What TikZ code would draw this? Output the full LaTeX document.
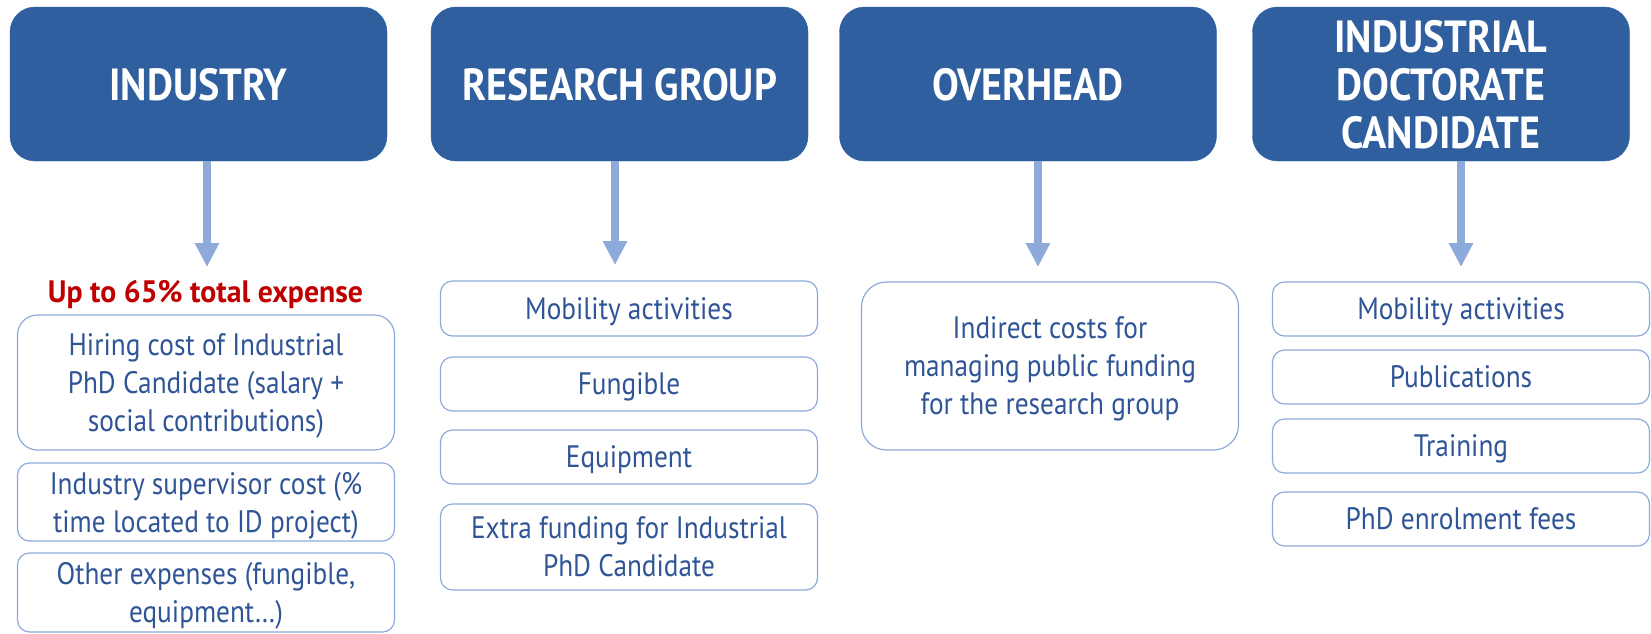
\documentclass[tikz,border=0pt]{standalone}
\usepackage{fontspec}
\setmainfont{PT Sans}[FakeStretch=0.88]
\newfontfamily\headfont{PT Sans}[FakeStretch=0.89]
\newfontfamily\redfont{PT Sans}[FakeStretch=0.96]
\usetikzlibrary{arrows.meta}
\definecolor{hblue}{HTML}{2F5F9E}
\definecolor{tblue}{HTML}{2F5597}
\definecolor{lblue}{HTML}{8EAADB}
\definecolor{ablue}{HTML}{8EAADB}
\definecolor{rred}{HTML}{C00000}
\tikzset{
  head/.style={rounded corners=25pt, fill=hblue, draw=hblue, text=white,
    minimum width=377pt, minimum height=154pt, inner sep=0pt, align=center,
    text depth=0pt,
    font=\headfont\bfseries\fontsize{45}{48}\selectfont},
  item/.style={draw=lblue, line width=1.2pt, rounded corners=12pt, text=tblue,
    minimum width=377pt, inner sep=0pt, align=center, text depth=0pt,
    font=\fontsize{31}{38}\selectfont},
  arr/.style={draw=ablue, line width=8pt, -{Triangle[width=23pt,length=24pt]}},
  redlab/.style={text=rred, anchor=base, inner sep=0pt,
    font=\redfont\bfseries\fontsize{31}{38}\selectfont}
}
\begin{document}
\begin{tikzpicture}[x=1pt,y=1pt]
\useasboundingbox (0,0) rectangle (1651,-633);
\fill[white] (0,0) rectangle (1651,-633);
% headers
\node[head] (ind) at (198.5,-84) {INDUSTRY};
\node[head] (rg) at (619.5,-84) {RESEARCH GROUP};
\node[head] (ov) at (1028,-84) {OVERHEAD};
\node[head] (idc) at (1441,-84) {INDUSTRIAL\\DOCTORATE\\CANDIDATE};
% arrow tips
\coordinate (t1) at (207,-267);
\coordinate (t2) at (615,-265);
\coordinate (t3) at (1038,-267);
\coordinate (t4) at (1461,-267);
\draw[arr] (ind.south -| t1) -- (t1);
\draw[arr] (rg.south -| t2) -- (t2);
\draw[arr] (ov.south -| t3) -- (t3);
\draw[arr] (idc.south -| t4) -- (t4);
% column 1
\node[redlab] (lab) at (205.5,-302) {Up to 65\% total expense};
\node[item, rounded corners=20pt, minimum height=135pt] (hire) at (206,-382.5)
  {Hiring cost of Industrial\\PhD Candidate (salary +\\social contributions)};
\node[item, minimum height=78pt] (sup) at (206,-502)
  {Industry supervisor cost (\%\\time located to ID project)};
\node[item, minimum height=79pt] (oth) at (206,-592.5)
  {Other expenses (fungible,\\equipment…)};
% column 2
\node[item, minimum height=55pt] (mob) at (629,-308.5) {Mobility activities};
\node[item, minimum height=54pt] (fun) at (629,-384) {Fungible};
\node[item, minimum height=54pt] (equ) at (629,-457) {Equipment};
\node[item, minimum height=86pt] (ext) at (629,-547)
  {Extra funding for Industrial\\PhD Candidate};
% column 3
\node[item, rounded corners=25pt, minimum height=168pt] (indc) at (1050,-366)
  {Indirect costs for\\managing public funding\\for the research group};
% column 4
\node[item, minimum height=54pt] (mob2) at (1461,-309) {Mobility activities};
\node[item, minimum height=54pt] (pub) at (1461,-377) {Publications};
\node[item, minimum height=54pt] (tra) at (1461,-446) {Training};
\node[item, minimum height=54pt] (fee) at (1461,-519) {PhD enrolment fees};
\end{tikzpicture}
\end{document}
